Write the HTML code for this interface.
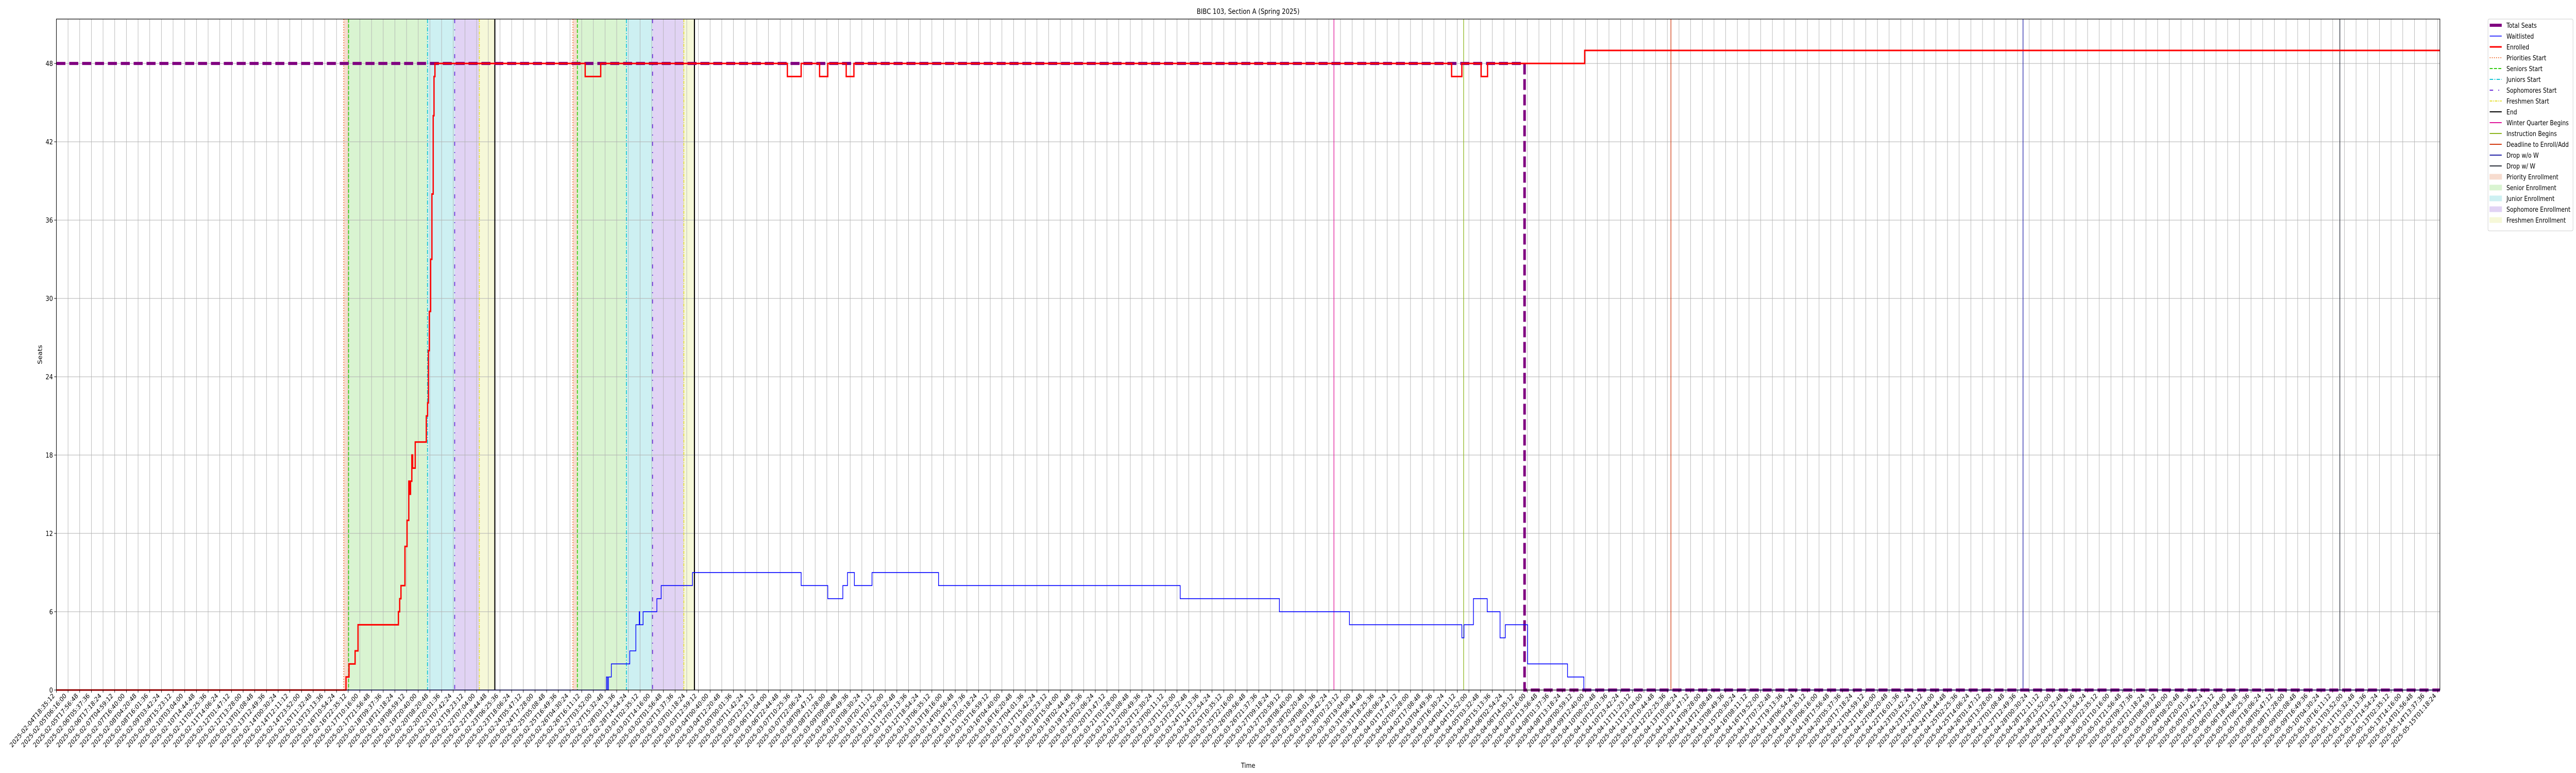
<!DOCTYPE html>
<html><head><meta charset="utf-8"><style>
html,body{margin:0;padding:0;background:#fff;overflow:hidden;}
svg{display:block;position:fixed;left:0;top:0;width:100vw;height:100vh;font-family:"DejaVu Sans","Liberation Sans",sans-serif;}
</style></head><body>
<svg id="chart" viewBox="0 0 6000 1500" preserveAspectRatio="none" xmlns="http://www.w3.org/2000/svg">
<rect x="0" y="0" width="6000" height="1500" fill="#fff"/>
<g id="bands"></g><g id="grid"></g><g id="vlines"></g><g id="series"></g><g id="axes"></g><g id="legend"></g>
</svg>
<script>
// ---- data (x = position in tick-index units, y = seats) ----
const enrolledX = [0,24.81,25.07,25.59,25.84,29.30,29.41,29.52,29.86,30.04,30.19,30.26,30.34,30.45,30.52,30.74,31.69,31.80,31.87,31.95,32.06,32.17,32.28,32.35,32.43,45.30,46.63,62.62,63.80,65.38,66.08,67.66,68.32,119.52,120.40,122.05,122.60,130.92,204.18];
const enrolledY = [0,1,2,3,5,6,7,8,11,13,16,15,16,18,17,19,21,22,26,29,33,38,44,47,48,47,48,47,48,47,48,47,48,47,48,47,48,49,49];
const waitX = [0,47.12,47.21,47.29,47.54,49.12,49.64,49.93,49.97,50.26,51.44,51.81,54.49,63.80,66.08,67.37,67.77,68.36,69.87,75.57,96.27,104.77,110.77,120.40,120.58,121.39,122.57,123.67,124.12,126.03,129.45,130.85,204.18];
const waitY = [0,1,0,1,2,3,5,6,5,6,7,8,9,8,7,8,9,8,9,8,7,6,5,4,5,7,6,4,5,2,1,0,0];
const seatsX = [0,125.77,125.77,204.18];
const seatsY = [48,48,0,0];
const prioritiesStart = [24.62,44.25];
const seniorsStart = [25.03,44.63];
const juniorsStart = [31.79,48.83];
const sophomoresStart = [34.12,51.07];
const freshmenStart = [36.23,53.75];
const endTimes = [37.56,54.66];
const winterBegins = [109.44];
const instructionBegins = [120.55];
const deadlineAdd = [138.31];
const dropNoW = [168.47];
const dropW = [195.61];
const yTicks = [0,6,12,18,24,30,36,42,48];
const tickCount = 205;
const tickStart = Date.UTC(2025,1,4,18,35,12);
const tickStepMs = 11.68*3600*1000;

// ---- scales ----
const X0=131.3, XS=27.19, XR=5683, YB=1339, YT=37, YU=25.33;
const sx = v => X0 + v*XS;
const sy = v => YB - v*YU;
const NS="http://www.w3.org/2000/svg";
function mk(tag, attrs, parent){const e=document.createElementNS(NS,tag);for(const k in attrs)e.setAttribute(k,attrs[k]);parent.appendChild(e);return e;}
const gB=document.getElementById('bands'),gG=document.getElementById('grid'),gV=document.getElementById('vlines'),gS=document.getElementById('series'),gA=document.getElementById('axes'),gL=document.getElementById('legend');

// bands
const bandDefs=[[prioritiesStart,seniorsStart,'#f7dccf','priority-enrollment-band'],[seniorsStart,juniorsStart,'#d9f4d1','senior-enrollment-band'],[juniorsStart,sophomoresStart,'#cdf0f2','junior-enrollment-band'],[sophomoresStart,freshmenStart,'#e1d3f4','sophomore-enrollment-band'],[freshmenStart,endTimes,'#f6f8d8','freshmen-enrollment-band']];
bandDefs.forEach(b=>{for(let i=0;i<b[0].length;i++){
  const r=mk('rect',{x:sx(b[0][i]),y:YT,width:sx(b[1][i])-sx(b[0][i]),height:YB-YT,fill:b[2]},gB);
  
  
}});

// grid + ticks
const tickLabels=[];
for(let k=0;k<tickCount;k++){const d=new Date(tickStart+k*tickStepMs);tickLabels.push(d.toISOString().slice(0,19));}
for(let k=0;k<tickCount;k++){
  const x=sx(k);
  const gl=mk('line',{x1:x,x2:x,y1:YT,y2:YB,stroke:'#b0b0b0','stroke-width':1},gG);
  
  
  mk('line',{x1:x,x2:x,y1:YB,y2:YB+5,stroke:'#000','stroke-width':1},gA);
  const t=mk('text',{x:x-3,y:YB+12,'font-size':13,'text-anchor':'end',transform:`rotate(-45 ${x-3} ${YB+12})`},gA);
  t.textContent=tickLabels[k];
  
  
}
yTicks.forEach(v=>{
  const y=sy(v);
  const gl=mk('line',{x1:X0,x2:XR,y1:y,y2:y,stroke:'#b0b0b0','stroke-width':1},gG);
  
  
  mk('line',{x1:X0-5,x2:X0,y1:y,y2:y,stroke:'#000','stroke-width':1},gA);
  const t=mk('text',{x:X0-8,y:y+5,'font-size':13.5,'text-anchor':'end'},gA);
  t.textContent=String(v);
  
  
});

// vertical event lines
const vDefs=[[prioritiesStart,'#f0743a','2 3',2,'priorities-start-line'],[seniorsStart,'#33cc11','7 3',2,'seniors-start-line'],[juniorsStart,'#18c6d4','8 3 2 3',2,'juniors-start-line'],[sophomoresStart,'#6a2bd9','8 12 2 12',2,'sophomores-start-line'],[freshmenStart,'#e6e03a','6 2 2 2',2,'freshmen-start-line'],[endTimes,'#000','',2.5,'end-line'],[winterBegins,'#e0179a','',1.5,'winter-quarter-begins-line'],[instructionBegins,'#8db51f','',1.5,'instruction-begins-line'],[deadlineAdd,'#d23a10','',1.5,'deadline-enroll-line'],[dropNoW,'#2323a8','',1.5,'drop-without-w-line'],[dropW,'#2a2f3a','',1.5,'drop-with-w-line']];
vDefs.forEach(d=>d[0].forEach(v=>{
  const l=mk('line',{x1:sx(v),x2:sx(v),y1:YT,y2:YB,stroke:d[1],'stroke-width':d[3]},gV);
  if(d[2])l.setAttribute('stroke-dasharray',d[2]);
  
  
}));

// series
function stepPath(xs,ys){let p=`M${sx(xs[0])},${sy(ys[0])}`;for(let i=1;i<xs.length;i++){p+=` L${sx(xs[i])},${sy(ys[i-1])} L${sx(xs[i])},${sy(ys[i])}`;}return p;}
function linePath(xs,ys){return xs.map((x,i)=>(i?'L':'M')+sx(x)+','+sy(ys[i])).join(' ');}
const seats=mk('path',{d:linePath(seatsX,seatsY),fill:'none',stroke:'#800080','stroke-width':6,'stroke-dasharray':'21 9'},gS);


const wl=mk('path',{d:stepPath(waitX,waitY),fill:'none',stroke:'#0000ff','stroke-width':1.6},gS);


const en=mk('path',{d:stepPath(enrolledX,enrolledY),fill:'none',stroke:'#ff0000','stroke-width':3},gS);



// axes frame & labels
const frame=mk('rect',{x:X0,y:YT,width:XR-X0,height:YB-YT,fill:'none',stroke:'#000','stroke-width':1.2},gA);


const title=mk('text',{x:(X0+XR)/2,y:27,'font-size':14,'text-anchor':'middle'},gA);
title.textContent='BIBC 103, Section A (Spring 2025)';


const xl=mk('text',{x:(X0+XR)/2,y:1490,'font-size':13.5,'text-anchor':'middle'},gA);
xl.textContent='Time';


const yl=mk('text',{x:98,y:(YT+YB)/2,'font-size':13.5,'text-anchor':'middle',transform:`rotate(-90 98 ${(YT+YB)/2})`},gA);
yl.textContent='Seats';



// legend
const legItems=[['Total Seats','line','#800080',6,'','legend-total-seats'],['Waitlisted','line','#0000ff',1.6,'','legend-waitlisted'],['Enrolled','line','#ff0000',3,'','legend-enrolled'],['Priorities Start','line','#f0743a',2,'2 3','legend-priorities-start'],['Seniors Start','line','#33cc11',2,'7 3','legend-seniors-start'],['Juniors Start','line','#18c6d4',2,'8 3 2 3','legend-juniors-start'],['Sophomores Start','line','#6a2bd9',2,'8 12 2 12','legend-sophomores-start'],['Freshmen Start','line','#e6e03a',2,'6 2 2 2','legend-freshmen-start'],['End','line','#000',2,'','legend-end'],['Winter Quarter Begins','line','#e0179a',2,'','legend-winter-quarter'],['Instruction Begins','line','#8db51f',2,'','legend-instruction-begins'],['Deadline to Enroll/Add','line','#d23a10',2,'','legend-deadline'],['Drop w/o W','line','#2323a8',2,'','legend-drop-without-w'],['Drop w/ W','line','#2a2f3a',2,'','legend-drop-with-w'],['Priority Enrollment','patch','#f7dccf',0,'','legend-priority-enrollment'],['Senior Enrollment','patch','#d9f4d1',0,'','legend-senior-enrollment'],['Junior Enrollment','patch','#cdf0f2',0,'','legend-junior-enrollment'],['Sophomore Enrollment','patch','#e1d3f4',0,'','legend-sophomore-enrollment'],['Freshmen Enrollment','patch','#f6f8d8',0,'','legend-freshmen-enrollment']];
const LX=5795, LY=37, RH=21;
const lb=mk('rect',{x:LX,y:LY,width:198,height:legItems.length*RH+12,fill:'#fff',stroke:'#cccccc','stroke-width':1,rx:3},gL);


legItems.forEach((it,i)=>{
  const cy=LY+12+i*RH;
  const g=mk('g',{},gL);
  
  
  if(it[1]==='line'){const l=mk('line',{x1:LX+4,x2:LX+32,y1:cy,y2:cy,stroke:it[2],'stroke-width':it[3]},g);if(it[4])l.setAttribute('stroke-dasharray',it[4]);}
  else mk('rect',{x:LX+4,y:cy-5,width:28,height:10,fill:it[2],stroke:it[2]},g);
  const t=mk('text',{x:LX+43,y:cy+5,'font-size':13},g);
  t.textContent=it[0];
  if(t.getComputedTextLength && t.getComputedTextLength()>150){t.setAttribute('textLength','150');t.setAttribute('lengthAdjust','spacingAndGlyphs');}
});
</script>
</body></html>
